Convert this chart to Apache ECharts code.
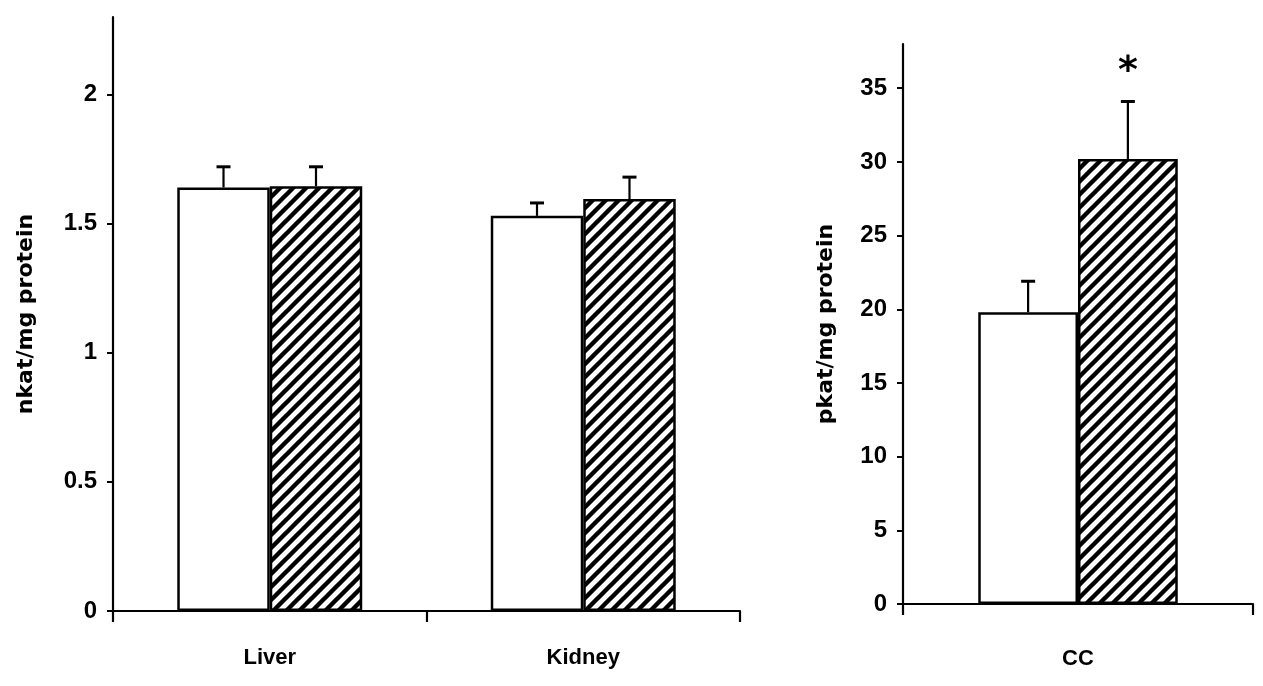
<!DOCTYPE html>
<html>
<head>
<meta charset="utf-8">
<script src="https://cdn.jsdelivr.net/npm/echarts@6/dist/echarts.min.js"></script>
<style>
  html, body { margin: 0; padding: 0; background: #ffffff; }
  #chart { width: 1263px; height: 686px; }
</style>
</head>
<body>
<div id="chart"></div>
<script>
// ---- data ----
const categoriesLeft = ['Liver', 'Kidney'];
const controlLeft = [1.64, 1.53];
const controlLeftErr = [0.08, 0.05];
const treatedLeft = [1.645, 1.595];
const treatedLeftErr = [0.075, 0.085];
const yTicksLeft = [0, 0.5, 1, 1.5, 2];
const yMaxLeft = 2.3;
const yTitleLeft = 'nkat/mg protein';

const categoriesRight = ['CC'];
const controlRight = [19.8];
const controlRightErr = [2.1];
const treatedRight = [30.2];
const treatedRightErr = [3.9];
const treatedRightSig = ['*'];
const yTicksRight = [0, 5, 10, 15, 20, 25, 30, 35];
const yMaxRight = 38;
const yTitleRight = 'pkat/mg protein';

// ---- styles ----
const FONT = '"Liberation Sans", Arial, sans-serif';
const TITLE_FONT = '"DejaVu Sans", sans-serif';
const FRAC_LEFT = 0.295;
const FRAC_RIGHT = 0.285;

function makeHatch() {
  const s = 13;
  const c = document.createElement('canvas');
  c.width = s; c.height = s;
  const g = c.getContext('2d');
  g.fillStyle = '#ffffff';
  g.fillRect(0, 0, s, s);
  g.strokeStyle = '#000000';
  g.lineWidth = 4.4;
  g.beginPath();
  [0, s, 2 * s].forEach(function (cc) {
    g.moveTo(-2, cc + 2);
    g.lineTo(cc + 2, -2);
  });
  g.stroke();
  return c;
}
const hatch = { image: makeHatch(), repeat: 'repeat' };

function errData(vals, errs) {
  return vals.map(function (v, i) { return [i, v, errs[i]]; });
}

function errRender(side, frac, sig) {
  return function (params, api) {
    const cat = api.value(0);
    const v = api.value(1);
    const e = api.value(2);
    const base = api.coord([cat, v]);
    const top = api.coord([cat, v + e]);
    const bw = api.size([1, 0])[0] * frac;
    const x = base[0] + side * bw / 2;
    const children = [
      { type: 'line', shape: { x1: x, y1: base[1], x2: x, y2: top[1] }, style: { stroke: '#000', lineWidth: 2.2 } },
      { type: 'line', shape: { x1: x - 7, y1: top[1], x2: x + 7, y2: top[1] }, style: { stroke: '#000', lineWidth: 3 } }
    ];
    if (sig && sig[params.dataIndex]) {
      children.push({
        type: 'text',
        style: {
          text: sig[params.dataIndex], x: x, y: top[1] - 29,
          align: 'center', verticalAlign: 'middle',
          font: 'bold 38px "DejaVu Sans", sans-serif', fill: '#000'
        }
      });
    }
    return { type: 'group', children: children };
  };
}

const axisLineStyle = { color: '#000', width: 2.2 };

function xAxisFor(gridIndex, cats, margin) {
  return {
    type: 'category', gridIndex: gridIndex, data: cats,
    axisLine: { show: true, lineStyle: axisLineStyle },
    axisTick: { show: true, length: 11, lineStyle: { color: '#000', width: 2.2 } },
    axisLabel: { color: '#000', fontFamily: FONT, fontWeight: 'bold', fontSize: 22, margin: margin },
    splitLine: { show: false }
  };
}
function yAxisFor(gridIndex, max, ticks, title, nameGap) {
  return {
    type: 'value', gridIndex: gridIndex, min: 0, max: max,
    name: title, nameLocation: 'middle', nameGap: nameGap,
    nameTextStyle: { color: '#000', fontFamily: TITLE_FONT, fontWeight: 'bold', fontSize: 22 },
    axisLine: { show: true, lineStyle: axisLineStyle },
    axisTick: { show: true, length: 6, customValues: ticks, lineStyle: { color: '#000', width: 2 } },
    axisLabel: { color: '#000', fontFamily: FONT, fontWeight: 'bold', fontSize: 24, margin: 16, customValues: ticks },
    splitLine: { show: false }
  };
}

const chart = echarts.init(document.getElementById('chart'), null, { renderer: 'canvas' });
chart.setOption({
  backgroundColor: '#ffffff',
  animation: false,
  grid: [
    { left: 113, width: 627, top: 17, bottom: 75, containLabel: false },
    { left: 903, right: 10, top: 44, bottom: 82, containLabel: false }
  ],
  xAxis: [xAxisFor(0, categoriesLeft, 36), xAxisFor(1, categoriesRight, 44)],
  yAxis: [yAxisFor(0, yMaxLeft, yTicksLeft, yTitleLeft, 76), yAxisFor(1, yMaxRight, yTicksRight, yTitleRight, 66)],
  series: [
    { name: 'Control', type: 'bar', xAxisIndex: 0, yAxisIndex: 0, data: controlLeft,
      barWidth: (FRAC_LEFT * 100) + '%', barGap: '0%',
      itemStyle: { color: '#ffffff', borderColor: '#000', borderWidth: 2.5 } },
    { name: 'Treated', type: 'bar', xAxisIndex: 0, yAxisIndex: 0, data: treatedLeft,
      barWidth: (FRAC_LEFT * 100) + '%', barGap: '0%',
      itemStyle: { color: hatch, borderColor: '#000', borderWidth: 2.5 } },
    { name: 'Control', type: 'bar', xAxisIndex: 1, yAxisIndex: 1, data: controlRight,
      barWidth: (FRAC_RIGHT * 100) + '%', barGap: '0%',
      itemStyle: { color: '#ffffff', borderColor: '#000', borderWidth: 2.5 } },
    { name: 'Treated', type: 'bar', xAxisIndex: 1, yAxisIndex: 1, data: treatedRight,
      barWidth: (FRAC_RIGHT * 100) + '%', barGap: '0%',
      itemStyle: { color: hatch, borderColor: '#000', borderWidth: 2.5 } },
    { type: 'custom', xAxisIndex: 0, yAxisIndex: 0, data: errData(controlLeft, controlLeftErr),
      renderItem: errRender(-1, FRAC_LEFT), z: 5 },
    { type: 'custom', xAxisIndex: 0, yAxisIndex: 0, data: errData(treatedLeft, treatedLeftErr),
      renderItem: errRender(1, FRAC_LEFT), z: 5 },
    { type: 'custom', xAxisIndex: 1, yAxisIndex: 1, data: errData(controlRight, controlRightErr),
      renderItem: errRender(-1, FRAC_RIGHT), z: 5 },
    { type: 'custom', xAxisIndex: 1, yAxisIndex: 1, data: errData(treatedRight, treatedRightErr),
      renderItem: errRender(1, FRAC_RIGHT, treatedRightSig), z: 5 }
  ]
});
</script>
</body>
</html>
